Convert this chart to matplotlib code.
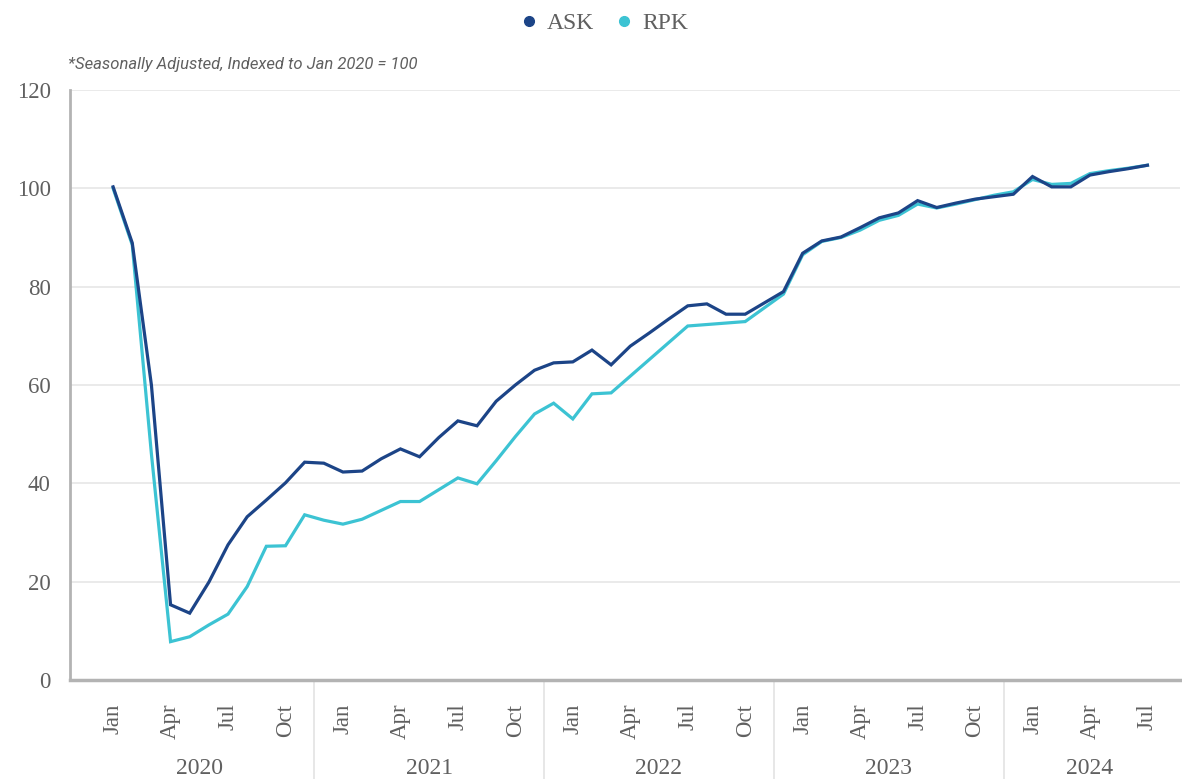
import matplotlib
matplotlib.use("Agg")
import matplotlib.pyplot as plt
from matplotlib.lines import Line2D

years = ["2020", "2021", "2022", "2023", "2024"]
month_labels = ["Jan", "Apr", "Jul", "Oct"]

ask = [100.3, 88.9, 60.0, 15.3, 13.6, 19.9, 27.5, 33.2, 36.6, 40.1, 44.3, 44.1,
       42.3, 42.5, 45.0, 47.0, 45.4, 49.3, 52.7, 51.7, 56.7, 60.0, 63.0, 64.5,
       64.7, 67.1, 64.1, 67.9, 70.6, 73.4, 76.1, 76.5, 74.4, 74.4, 76.7, 79.0,
       86.8, 89.3, 90.1, 92.0, 94.0, 95.0, 97.5, 96.1, 97.0, 97.8, 98.3, 98.8,
       102.4, 100.3, 100.3, 102.7, 103.4, 104.0, 104.7]
rpk = [100.0, 88.5, 46.0, 7.8, 8.8, 11.2, 13.4, 19.0, 27.2, 27.3, 33.6, 32.5,
       31.7, 32.7, 34.5, 36.3, 36.3, 38.7, 41.1, 39.9, 44.6, 49.5, 54.1, 56.3,
       53.1, 58.2, 58.4, 61.8, 65.2, 68.6, 72.0, 72.3, 72.6, 72.9, 75.7, 78.5,
       86.5, 89.2, 90.0, 91.5, 93.5, 94.5, 96.8, 96.0, 96.8, 97.7, 98.6, 99.3,
       101.8, 100.8, 101.0, 103.0, 103.6, 104.1, 104.7]

ASK_C = "#1c4487"
RPK_C = "#3cc3d3"
TXT = "#606060"
SERIF = "Liberation Serif"

fig = plt.figure(figsize=(11.82, 7.79), dpi=100)
ax = fig.add_axes([70/1182, 99/779, 1110/1182, 590/779])

x = list(range(len(ask)))
ax.plot(x, ask, color=ASK_C, lw=2.3, zorder=4, solid_joinstyle="miter")
ax.plot(x, rpk, color=RPK_C, lw=2.3, zorder=3, solid_joinstyle="miter")

xmin, xmax = -2.25, 55.7
ax.set_xlim(xmin, xmax)
ax.set_ylim(0, 120)
ax.set_yticks(range(0, 121, 20))
ax.set_yticklabels([str(v) for v in range(0, 121, 20)], fontfamily=SERIF,
                   fontsize=16.5, color=TXT)
ax.tick_params(axis="y", length=0, pad=14)
ax.grid(axis="y", color="#e6e6e6", lw=1.2)
ax.set_axisbelow(True)
for s in ["top", "right"]:
    ax.spines[s].set_visible(False)
ax.spines["left"].set_color("#b3b3b3")
ax.spines["left"].set_linewidth(2)
ax.spines["bottom"].set_color("#b3b3b3")
ax.spines["bottom"].set_linewidth(2.5)

# month ticks
pos = [m for m in range(0, len(ask), 3)]
labs = [month_labels[(m % 12) // 3] for m in pos]
ax.set_xticks(pos)
ax.set_xticklabels(labs, rotation=90, fontfamily=SERIF, fontsize=16.5, color=TXT)
ax.tick_params(axis="x", length=0, pad=17)

# year separators and labels
trans = ax.get_xaxis_transform()
for i, yr in enumerate(years):
    lo = -1.5 + 12 * i
    hi = min(10.5 + 12 * i, 55.5)
    ax.text((lo + hi) / 2, -0.150, yr, transform=trans, ha="center", va="center",
            fontfamily=SERIF, fontsize=17, color=TXT)
    if i > 0:
        ax.add_line(Line2D([lo, lo], [0, -0.2], transform=trans, color="#e3e3e3",
                           lw=1.2, clip_on=False))

# legend
handles = [Line2D([], [], marker="o", ls="", color=ASK_C, markersize=7, label="ASK"),
           Line2D([], [], marker="o", ls="", color=RPK_C, markersize=7, label="RPK")]
fig.legend(handles=handles, loc="center", bbox_to_anchor=(0.5 + 12/1182, 1 - 23/779),
           ncol=2, frameon=False, prop={"family": SERIF, "size": 17}, labelcolor=TXT,
           handlelength=0.9, handletextpad=0.3, columnspacing=0.85)

fig.text(68/1182, 1 - 65/779, "*Seasonally Adjusted, Indexed to Jan 2020 = 100",
         fontfamily="Roboto", style="italic", fontsize=12, color=TXT, va="center")

fig.savefig("out.png", dpi=100)
